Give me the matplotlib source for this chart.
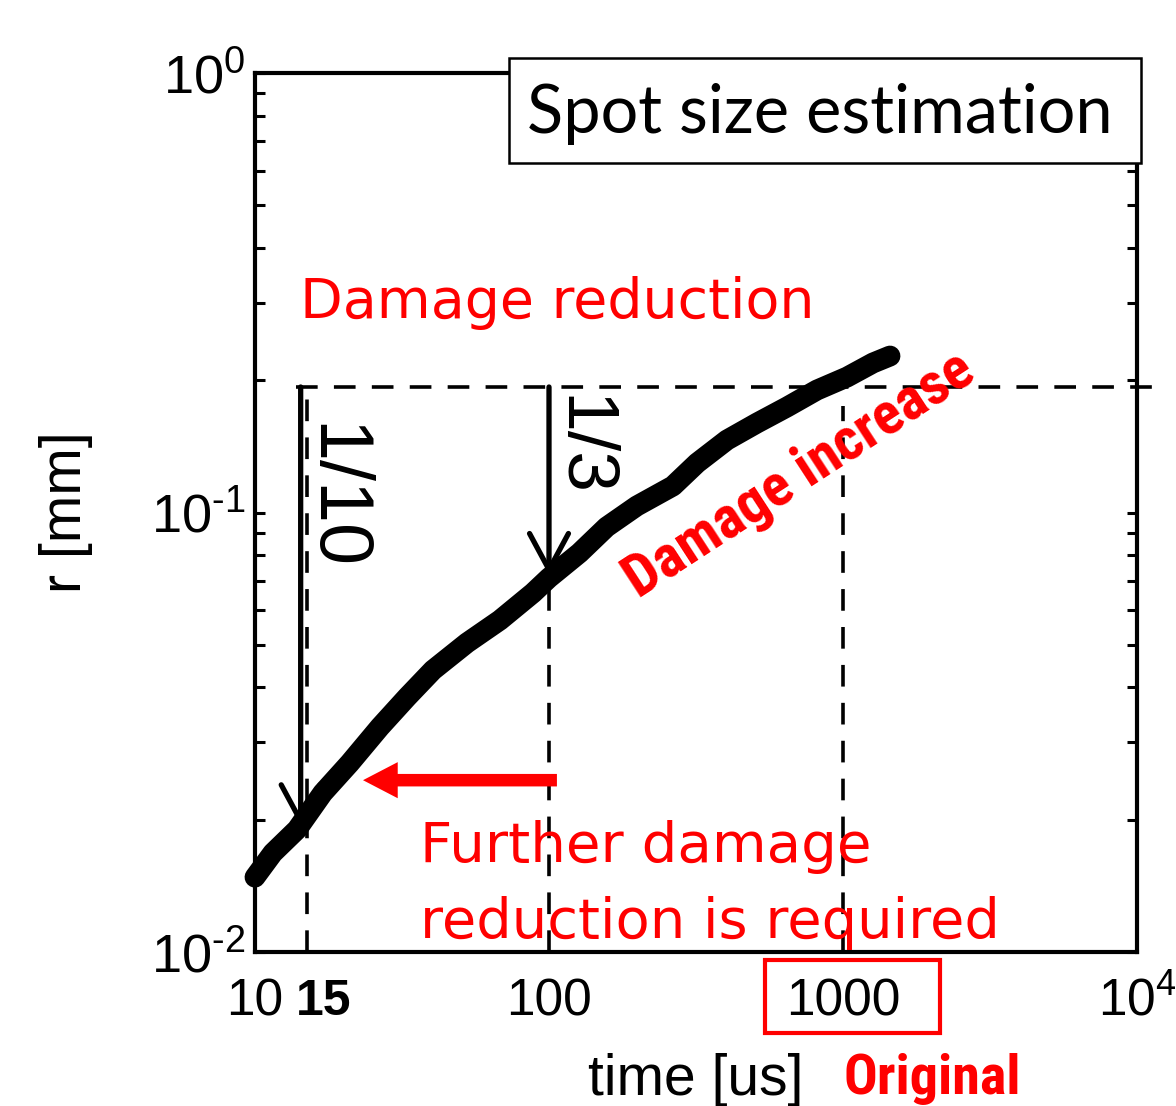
import os
import matplotlib
matplotlib.use("Agg")
import matplotlib.pyplot as plt
from matplotlib import font_manager
from matplotlib.font_manager import FontProperties
from matplotlib.patches import Rectangle
from matplotlib.ticker import LogLocator, NullFormatter, NullLocator

# Spot radius growth against pulse time
time_us = [10, 11.5, 13.9, 17.0, 21.0, 26.6, 32.9, 40.3, 52.6, 68.1, 88.2, 100,
           127, 157, 199, 264, 319, 403, 510, 645, 816, 1032, 1265, 1445]
radius_mm = [0.0148, 0.0168, 0.0190, 0.0230, 0.0269, 0.0325, 0.0380, 0.0438,
             0.0505, 0.0569, 0.0656, 0.0710, 0.0809, 0.0927, 0.1035, 0.1149,
             0.1296, 0.1462, 0.1598, 0.1738, 0.1900, 0.2033, 0.2189, 0.2270]

x_ticks = [10, 100, 1000, 10000]
x_tick_labels = ["10", "100", "1000", r"$10^{4}$"]
y_ticks = [0.01, 0.1, 1.0]
y_tick_labels = ["$10^{\u20102}$", "$10^{\u20101}$", "$10^{0}$"]

t_original = 1000          # original pulse time [us]
r_original = 0.193         # spot radius at the original pulse time [mm]
guide_times = [15, 100, 1000]
guide_tops = [r_original, 0.071, 0.175]
r_at_100 = 0.072


def condensed_bold_path():
    files = {}
    for f in font_manager.fontManager.ttflist:
        files[os.path.basename(f.fname).lower()] = f.fname
    prefs = ["liberationsansnarrow-bold.", "arialnarrow-bold", "arialnb",
             "robotocondensed-bold.", "notosans-condensedbold.",
             "opensans-condbold", "opensanscondensed-bold",
             "dejavusanscondensed-bold."]
    for p in prefs:
        for name, path in files.items():
            if name.startswith(p):
                return path
    for name, path in files.items():
        if (("condensed" in name or "narrow" in name) and "bold" in name
                and "italic" not in name and "oblique" not in name
                and "semi" not in name and "extra" not in name):
            return path
    return None


SANS = "Liberation Sans"
COND_PATH = condensed_bold_path()
BOX_FONT = "Lato"
RED_FONT = "DejaVu Sans"
RED = "#ff0000"

plt.rcParams["font.family"] = SANS
plt.rcParams["mathtext.fontset"] = "custom"
plt.rcParams["mathtext.rm"] = SANS
plt.rcParams["mathtext.it"] = SANS + ":italic"
plt.rcParams["mathtext.bf"] = SANS + ":bold"

W, H = 1176, 1106
fig = plt.figure(figsize=(W / 100, H / 100), dpi=100)
L, R, T, B = 255, 1137, 73, 952
ax = fig.add_axes([L / W, 1 - B / H, (R - L) / W, (B - T) / H])


def fig_xy(x, y):
    return x / W, 1 - y / H


def bold_narrow(size):
    if COND_PATH:
        return FontProperties(fname=COND_PATH, size=size)
    return FontProperties(family=SANS, weight="bold", size=size)


ax.set_xscale("log")
ax.set_yscale("log")
ax.set_xlim(10, 1e4)
ax.set_ylim(1e-2, 1)

for sp in ax.spines.values():
    sp.set_linewidth(3)

ax.set_xticks(x_ticks, x_tick_labels)
ax.xaxis.set_minor_locator(NullLocator())
ax.tick_params(axis="x", which="both", length=0, labelsize=37, pad=46)
for lab in ax.get_xticklabels():
    lab.set_verticalalignment("baseline")

ax.set_yticks(y_ticks, y_tick_labels)
ax.yaxis.set_minor_locator(LogLocator(base=10, subs=range(2, 10)))
ax.yaxis.set_minor_formatter(NullFormatter())
ax.tick_params(axis="y", which="both", direction="in", left=True, right=True,
               length=7.5, width=2.2, labelsize=39, pad=7)

ax.set_xlabel("time [us]", fontsize=41)
ax.xaxis.set_label_coords(0.5, -(1053 - B) / (B - T))
ax.set_ylabel("r [mm]", fontsize=41)
ax.yaxis.set_label_coords(-(L - 93) / (R - L), 0.5)

dash = (0, (6, 4.5))
# guide lines
for t, top in zip(guide_times, guide_tops):
    ax.plot([t, t], [1e-2, top], color="black", lw=2.6, ls=dash, zorder=2)
ax.plot([13.8, 11700], [r_original, r_original], color="black", lw=2.6,
        ls=dash, zorder=2, clip_on=False)

# measured curve
ax.plot(time_us, radius_mm, color="black", lw=15, solid_capstyle="round",
        solid_joinstyle="round", clip_on=False, zorder=3)

# reduction arrows
black_arrow = dict(arrowstyle="->,head_length=2.6,head_width=1.4",
                   mutation_scale=10, lw=3.8, color="black",
                   shrinkA=0, shrinkB=0)
ax.annotate("", xy=(14.3, r_original / 10), xytext=(14.3, r_original),
            arrowprops=black_arrow, zorder=4)
ax.annotate("", xy=(100, r_at_100), xytext=(100, r_original),
            arrowprops=black_arrow, zorder=4)
ax.annotate("", xy=(23.3, 0.0246), xytext=(106.4, 0.0246),
            arrowprops=dict(arrowstyle="simple,head_length=25,head_width=26,tail_width=9",
                            mutation_scale=1, color=RED, lw=0,
                            shrinkA=0, shrinkB=0), zorder=4)

renderer = fig.canvas.get_renderer()


def fit_width(txt, target):
    for _ in range(3):
        w = txt.get_window_extent(renderer).width
        txt.set_fontsize(txt.get_fontsize() * target / w)
    return txt


fit_width(ax.text(14.2, 0.277, "Damage reduction", color=RED, family=RED_FONT,
                  fontsize=40, ha="left", va="baseline", zorder=5), 515)
fit_width(ax.text(36.4, 0.01603, "Further damage", color=RED, family=RED_FONT,
                  fontsize=40, ha="left", va="baseline", zorder=5), 452)
fit_width(ax.text(36.4, 0.01076, "reduction is required", color=RED,
                  family=RED_FONT, fontsize=40, ha="left", va="baseline",
                  zorder=5), 580)

inc = ax.text(714, 0.1214, "Damage increase", color=RED,
              fontproperties=bold_narrow(37), ha="center", va="center",
              rotation_mode="anchor", zorder=5)
if COND_PATH:
    fit_width(inc, 405)
inc.set_rotation(33)

t10 = ax.text(18.6, 0.1088, "1/10", color="black", family=SANS, fontsize=50,
              ha="center", va="center", rotation_mode="anchor", zorder=5)
fit_width(t10, 147)
t10.set_rotation(-90)
t3 = ax.text(128, 0.1418, "1/3", color="black", family=SANS, fontsize=50,
             ha="center", va="center", rotation_mode="anchor", zorder=5)
fit_width(t3, 102)
t3.set_rotation(-90)

# title box
fig.add_artist(Rectangle(fig_xy(509, 163), (1141 - 509) / W, (163 - 58) / H,
                         transform=fig.transFigure, facecolor="white",
                         edgecolor="black", lw=1.8, zorder=2))
fit_width(fig.text(*fig_xy(820, 133), "Spot size estimation", family=BOX_FONT,
                   fontsize=50, ha="center", va="baseline", zorder=3), 586)

# bottom annotations
fig.text(*fig_xy(296, 1015), "15", family=SANS, fontweight="bold",
         fontsize=36, ha="left", va="baseline", color="black")
fig.add_artist(Rectangle(fig_xy(765, 1033), (940 - 765) / W, (1033 - 960) / H,
                         transform=fig.transFigure, fill=False,
                         edgecolor=RED, lw=3, zorder=2))
orig = fig.text(*fig_xy(843, 1094), "Original", fontproperties=bold_narrow(38),
                ha="left", va="baseline", color=RED)
if COND_PATH:
    fit_width(orig, 177)

fig.savefig("out.png", dpi=100)
